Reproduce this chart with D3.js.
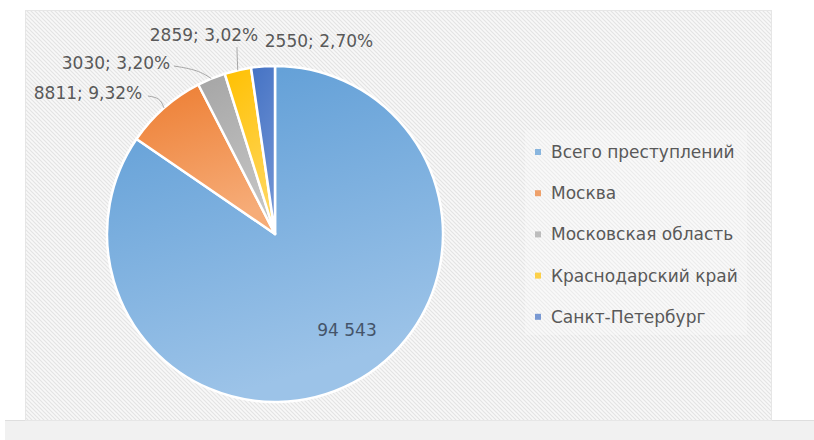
<!DOCTYPE html>
<html><head><meta charset="utf-8">
<script src="https://cdn.jsdelivr.net/npm/d3@7"></script>
<style>body{margin:0;background:#fff}svg{display:block}text{font-family:"DejaVu Sans",sans-serif}</style>
</head><body>
<svg id="c" width="814" height="440"></svg>
<script>
const categories = ["Всего преступлений","Москва","Московская область","Краснодарский край","Санкт-Петербург"];
const values = [94543, 8811, 3030, 2859, 2550];
const labelTexts = ["94 543","8811; 9,32%","3030; 3,20%","2859; 3,02%","2550; 2,70%"];
const colors = ["#5b9bd5","#ed7d31","#a5a5a5","#ffc000","#4472c4"];
const lightColors = ["#9cc3e8","#f6ac78","#c4c4c4","#ffd65c","#6f92d3"];

const svg = d3.select("#c");
const defs = svg.append("defs");
const pat = defs.append("pattern").attr("id","hatch").attr("patternUnits","userSpaceOnUse")
  .attr("width",4).attr("height",4);
pat.append("rect").attr("width",4).attr("height",4).attr("fill","#f8f8f8");
pat.append("path").attr("d","M-1,-1 L5,5 M-1,3 L1,5 M3,-1 L5,1").attr("stroke","#e3e3e3").attr("stroke-width",1.1);

colors.forEach((c,i)=>{
  const g = defs.append("linearGradient").attr("id","g"+i).attr("x1",0).attr("y1",0).attr("x2",0.3).attr("y2",1);
  g.append("stop").attr("offset","0%").attr("stop-color",c);
  g.append("stop").attr("offset","100%").attr("stop-color",lightColors[i]);
});

svg.append("rect").attr("x",5).attr("y",420).attr("width",809).attr("height",20).attr("fill","#f1f1f1");
svg.append("line").attr("x1",5).attr("x2",814).attr("y1",420.5).attr("y2",420.5).attr("stroke","#dedede");
svg.append("rect").attr("x",25.5).attr("y",10.5).attr("width",746).attr("height",410).attr("fill","url(#hatch)").attr("stroke","#e6e6e6");

const cx = 275, cy = 234, R = 168;
const pie = d3.pie().sort(null).value(d=>d)(values);
const arc = d3.arc().innerRadius(0).outerRadius(R);
const g = svg.append("g").attr("transform",`translate(${cx},${cy})`);
g.selectAll("path.slice").data(pie).join("path").attr("class","slice")
  .attr("d",arc).attr("fill",(d,i)=>`url(#g${i})`).attr("stroke","#fff").attr("stroke-width",2.5).attr("stroke-linejoin","round");

const outer = d3.arc().innerRadius(R).outerRadius(R);
const labelPos = [
  {x:347, y:336},
  {x:88, y:99, lead:[[148,96],[160,98]]},
  {x:116, y:69, lead:[[174,66],[198,70]]},
  {x:204, y:41, lead:[[237,47],[237,51]]},
  {x:319, y:47}
];
pie.forEach((d,i)=>{
  const p = labelPos[i];
  if(p.lead){
    const c = outer.centroid(d);
    const pts = p.lead.concat([[cx+c[0], cy+c[1]]]);
    svg.append("path").attr("d",d3.line().curve(d3.curveBasis)(pts)).attr("fill","none").attr("stroke","#a6a6a6").attr("stroke-width",1);
  }
  svg.append("text").attr("x",p.x).attr("y",p.y).attr("text-anchor","middle")
    .attr("font-size",17).attr("fill", i===0?"#44546a":"#595959").text(labelTexts[i]);
});

const lg = svg.append("g");
lg.append("rect").attr("x",525).attr("y",130).attr("width",222).attr("height",205).attr("fill","#fbfbfb").attr("opacity",0.35);
categories.forEach((c,i)=>{
  const y = 152 + i*41.2;
  lg.append("rect").attr("x",535).attr("y",y-3).attr("width",6).attr("height",6).attr("fill",colors[i]).attr("opacity",0.7);
  lg.append("text").attr("x",551).attr("y",y+6).attr("font-size",17).attr("fill","#595959").text(c);
});
</script>
</body></html>
